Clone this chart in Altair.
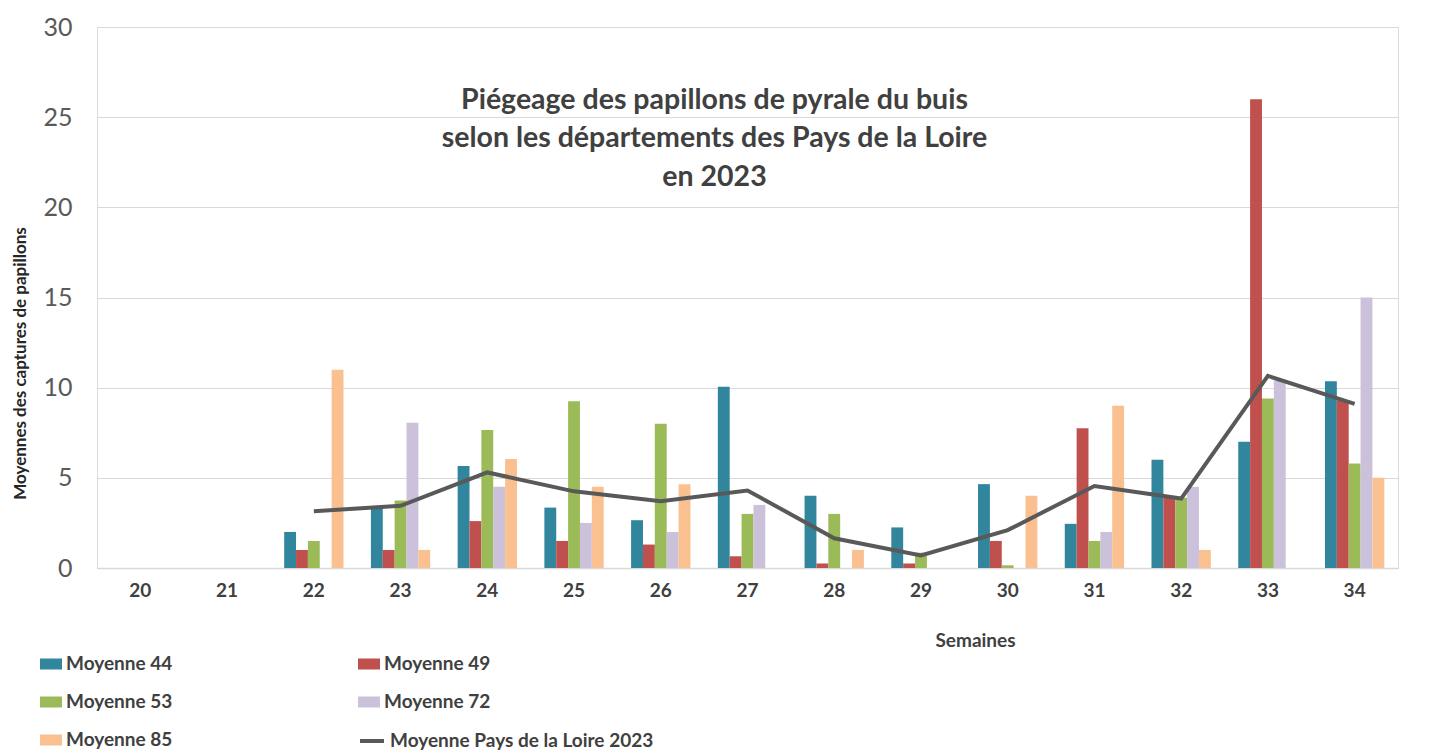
import altair as alt
import pandas as pd

weeks = ["20", "21", "22", "23", "24", "25", "26", "27", "28", "29", "30", "31", "32", "33", "34"]

moy44 = [None, None, 2.0, 3.4, 5.65, 3.35, 2.65, 10.05, 4.0, 2.25, 4.65, 2.45, 6.0, 7.0, 10.35]
moy49 = [None, None, 1.0, 1.0, 2.6, 1.5, 1.3, 0.65, 0.25, 0.25, 1.5, 7.75, 3.9, 26.0, 9.3]
moy53 = [None, None, 1.5, 3.75, 7.65, 9.25, 8.0, 3.0, 3.0, 0.85, 0.15, 1.5, 3.9, 9.4, 5.8]
moy72 = [None, None, None, 8.05, 4.5, 2.5, 2.0, 3.5, None, None, None, 2.0, 4.5, 10.4, 15.0]
moy85 = [None, None, 11.0, 1.0, 6.05, 4.5, 4.65, None, 1.0, None, 4.0, 9.0, 1.0, None, 5.0]
moy_pdl = [None, None, 3.15, 3.45, 5.3, 4.25, 3.7, 4.3, 1.65, 0.7, 2.1, 4.55, 3.85, 10.65, 9.1]

bar_series = ["Moyenne 44", "Moyenne 49", "Moyenne 53", "Moyenne 72", "Moyenne 85"]
bar_colors = ["#31859C", "#C0504D", "#9BBB59", "#CCC1DA", "#FAC090"]
line_series = "Moyenne Pays de la Loire 2023"
line_color = "#595959"
y_ticks = [0, 5, 10, 15, 20, 25, 30]
title_lines = ["Piégeage des papillons de pyrale du buis",
               "selon les départements des Pays de la Loire",
               "en 2023"]

rows = []
for name, vals in zip(bar_series, [moy44, moy49, moy53, moy72, moy85]):
    for w, v in zip(weeks, vals):
        if v is not None:
            rows.append({"semaine": w, "serie": name, "valeur": v})
bars_df = pd.DataFrame(rows)
line_df = pd.DataFrame([{"semaine": w, "serie": line_series, "valeur": v}
                        for w, v in zip(weeks, moy_pdl) if v is not None])

FONT = "Lato"
LEG_FONT = dict(labelFont=FONT, labelFontSize=19, labelFontWeight="bold",
                labelColor="#404040", labelOffset=4, labelLimit=500)

bar_legend = alt.Legend(
    title=None, orient="none", legendX=-57, legendY=626, columns=2, direction="horizontal",
    columnPadding=185, rowPadding=17, symbolSize=484, symbolStrokeWidth=0,
    symbolType="M-1,-0.5H1V0.5H-1Z", symbolOpacity=1, **LEG_FONT,
)
line_legend = alt.Legend(
    title=None, orient="none", legendX=261, legendY=700,
    symbolType="stroke", symbolSize=576, symbolStrokeWidth=4, **LEG_FONT,
)

x_enc = alt.X("semaine:N", sort=weeks,
              scale=alt.Scale(domain=weeks, paddingInner=0.316, paddingOuter=0.158),
              axis=alt.Axis(title="Semaines", labelAngle=0, labelFont=FONT, labelFontSize=19,
                            labelFontWeight="bold", labelColor="#404040", labelPadding=13,
                            ticks=False, domainColor="#D9D9D9", domainWidth=1.5,
                            titleFont=FONT, titleFontSize=19, titleFontWeight="bold",
                            titleColor="#404040", titleX=878, titleY=72,
                            titleAlign="center", titleBaseline="middle"))

y_enc = alt.Y("valeur:Q", scale=alt.Scale(domain=[0, 30], nice=False),
              axis=alt.Axis(values=y_ticks, title="Moyennes des captures de papillons",
                            labelFont=FONT, labelFontSize=25, labelColor="#595959",
                            labelPadding=25, domain=False, ticks=False,
                            gridColor="#D9D9D9", gridWidth=1.2,
                            titleFont=FONT, titleFontSize=17, titleFontWeight="bold",
                            titleColor="#262626", titleX=-77, titleY=336,
                            titleAlign="center", titleBaseline="middle", titleAngle=-90))

bars = alt.Chart(bars_df).mark_bar().encode(
    x=x_enc,
    xOffset=alt.XOffset("serie:N", scale=alt.Scale(domain=bar_series, paddingInner=0, paddingOuter=0)),
    y=y_enc,
    color=alt.Color("serie:N", scale=alt.Scale(domain=bar_series, range=bar_colors), legend=bar_legend),
)

line = alt.Chart(line_df).mark_line(strokeWidth=4).encode(
    x=alt.X("semaine:N", sort=weeks),
    y=alt.Y("valeur:Q"),
    stroke=alt.Stroke("serie:N", scale=alt.Scale(domain=[line_series], range=[line_color]),
                      legend=line_legend),
)

chart = alt.layer(bars, line).resolve_scale(color="independent").properties(
    width=1301, height=541,
    autosize=alt.AutoSizeParams(type="none"),
    padding={"left": 89, "top": 19, "right": 30, "bottom": 186},
    title=alt.TitleParams(title_lines, font=FONT, fontSize=28.5, fontWeight="bold",
                          color="#404040", lineHeight=38.5, anchor="middle",
                          frame="group", orient="top", baseline="bottom",
                          offset=0, dx=-33, dy=205),
).configure_view(stroke=None).configure(background="white")

chart.save("out.html", embed_options={"renderer": "svg", "actions": False})
